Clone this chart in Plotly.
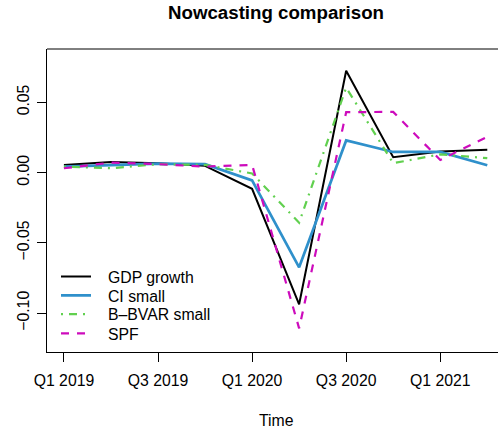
import numpy as np
import plotly.graph_objects as go

# Quarterly observations
quarters = ["Q1 2019", "Q2 2019", "Q3 2019", "Q4 2019", "Q1 2020",
            "Q2 2020", "Q3 2020", "Q4 2020", "Q1 2021", "Q2 2021"]

gdp_growth = [0.0055, 0.0076, 0.0067, 0.0048, -0.0115, -0.0937, 0.0725, 0.0110, 0.0150, 0.0163]
ci_small = [0.0043, 0.0055, 0.0064, 0.0060, -0.0055, -0.0674, 0.0229, 0.0147, 0.0147, 0.0052]
bbvar_small = [0.0043, 0.0031, 0.0060, 0.0055, -0.0006, -0.0356, 0.0605, 0.0067, 0.0130, 0.0103]
spf = [0.0031, 0.0071, 0.0060, 0.0043, 0.0055, -0.1108, 0.0430, 0.0432, 0.0090, 0.0255]

tick_labels = quarters[::2]

x = np.arange(1, len(quarters) + 1)
tick_pos = x[::2]

FONT = "Liberation Sans, Arial, Helvetica, sans-serif"
W, H = 498, 429
L, T, B = 47, 49, 77

series = [
    ("GDP growth", gdp_growth, "#000000", 2.0, "solid"),
    ("CI small", ci_small, "#2F90CB", 2.7, "solid"),
    ("B\u2013BVAR small", bbvar_small, "#61D04F", 2.2, "2px,6px,8px,6px"),
    ("SPF", spf, "#CD0BBC", 2.2, "8px,8px"),
]

fig = go.Figure()
legend_rows_px = [276.7, 295.7, 314.3, 333.7]
plot_h = H - T - B
for i, (name, vals, col, w, dash) in enumerate(series):
    lg = "legend" if i == 0 else f"legend{i + 1}"
    fig.add_trace(go.Scatter(
        x=x, y=vals, mode="lines", name="\u00a0\u00a0\u2009" + name,
        line=dict(color=col, width=w, dash=dash),
        legend=lg,
    ))

legend_common = dict(
    x=(61 - 5 - L) / (W - L), xanchor="left", yanchor="middle",
    bgcolor="rgba(0,0,0,0)", borderwidth=0,
    font=dict(family=FONT, size=15.8, color="#000000"),
    itemwidth=30,
)
legends = {}
for i, ypx in enumerate(legend_rows_px):
    key = "legend" if i == 0 else f"legend{i + 1}"
    legends[key] = dict(legend_common, y=(H - B - ypx) / plot_h)

fig.update_layout(
    width=W, height=H,
    margin=dict(l=L, r=0, t=T, b=B, pad=0),
    paper_bgcolor="white", plot_bgcolor="white",
    showlegend=True,
    title=dict(text="<b>Nowcasting comparison</b>", x=276 / W, xanchor="center",
               xref="container", y=1 - 12 / H, yanchor="middle", yref="container",
               font=dict(family=FONT, size=18.7, color="#000000")),
    xaxis=dict(
        range=[0.64, 0.64 + (W - L) / 47.04],
        tickvals=tick_pos, ticktext=tick_labels,
        ticks="outside", ticklen=9, tickcolor="#000000", tickwidth=1,
        ticklabelstandoff=5,
        showline=True, linecolor="#000000", linewidth=1, mirror=False,
        showgrid=False, zeroline=False,
        tickfont=dict(family=FONT, size=15.8, color="#000000"),
    ),
    yaxis=dict(
        range=[-0.12764, 0.08796],
        tickvals=[-0.10, -0.05, 0.00, 0.05], tickformat=".2f",
        ticks="outside", ticklen=9, tickcolor="#000000", tickwidth=1,
        tickangle=-90, ticklabelstandoff=2,
        showline=True, linecolor="#000000", linewidth=1, mirror=False,
        showgrid=False, zeroline=False,
        tickfont=dict(family=FONT, size=15.8, color="#000000"),
    ),
    shapes=[dict(type="line", xref="paper", yref="paper", x0=0, x1=1, y0=1, y1=1,
                 line=dict(color="#000000", width=1))],
    annotations=[dict(text="Time", xref="paper", yref="paper",
                      x=(276 - L) / (W - L), y=(H - B - 420) / plot_h,
                      xanchor="center", yanchor="middle", showarrow=False,
                      font=dict(family=FONT, size=15.8, color="#000000"))],
    **legends,
)

fig.write_html("out.html")
